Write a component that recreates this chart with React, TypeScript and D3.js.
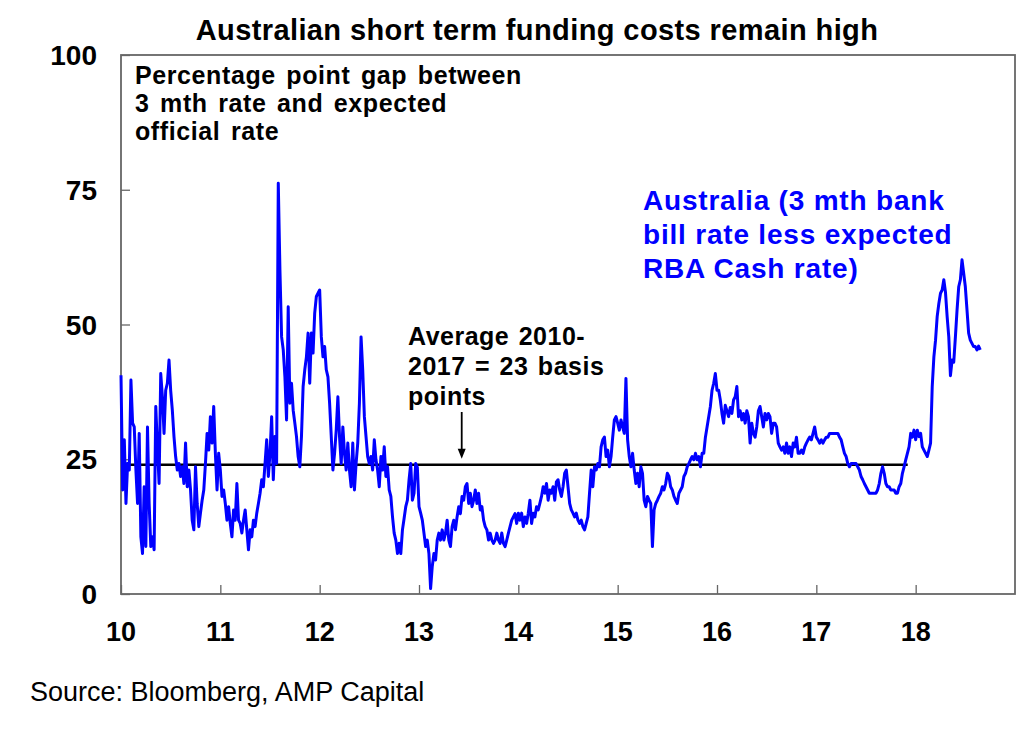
import { useEffect, useRef } from "react";
import * as d3 from "d3";

const title = "Australian short term funding costs remain high";
const subtitleLines = ["Percentage point gap between", "3 mth rate and expected", "official rate"];
const seriesLabelLines = ["Australia (3 mth bank", "bill rate less expected", "RBA Cash rate)"];
const averageLabelLines = ["Average 2010-", "2017 = 23 basis", "points"];
const source = "Source: Bloomberg, AMP Capital";

const xTicks = [10, 11, 12, 13, 14, 15, 16, 17, 18];
const yTicks = [0, 25, 50, 75, 100];

// average gap over 2010-2017 (line drawn up to end of 2017)
const averageGap = 24;
const averageFrom = 10;
const averageTo = 17.92;
const arrowAt = 13.43;

// basis points, sampled ~60 times a year
const samplesPerYear = 60;
const y2010 = [40.6, 19.3, 28.6, 16.8, 24.2, 23.0, 39.7, 31.7, 31.0, 23.0, 16.8, 29.8, 10.6, 7.5, 19.9, 8.8, 31.0, 16.8, 8.8, 10.6,
  8.2, 34.8, 27.3, 20.5, 40.9, 36.6, 29.8, 37.8, 39.1, 43.4, 37.8, 34.1, 29.2, 25.5, 23.0, 24.2, 21.8, 23.6, 20.5, 28.0,
  19.9, 23.0, 19.3, 13.7, 11.9, 23.6, 16.8, 12.5, 15.0, 17.4, 19.3, 24.2, 29.8, 26.7, 32.9, 28.0, 34.8, 26.1, 19.3, 26.1];
const y2011 = [23.0, 18.1, 19.3, 16.8, 13.7, 16.2, 13.1, 10.6, 15.6, 13.7, 20.5, 13.7, 13.1, 11.3, 13.7, 15.6, 11.9, 8.2, 11.9, 10.6,
  13.7, 12.5, 15.0, 16.8, 18.7, 21.2, 19.9, 24.2, 28.6, 21.8, 26.1, 32.9, 21.2, 29.2, 24.2, 76.2, 60.1, 47.7, 45.3, 40.3,
  32.3, 53.3, 35.4, 39.1, 34.1, 31.7, 29.2, 25.5, 23.6, 29.2, 38.5, 41.6, 44.0, 48.4, 39.1, 48.4, 44.7, 52.1, 55.2];
const y2012 = [56.4, 47.7, 44.0, 45.9, 41.6, 40.3, 35.4, 29.2, 23.0, 26.1, 30.4, 36.6, 29.2, 24.2, 31.0, 26.1, 23.0, 28.0, 23.0, 19.9,
  28.0, 19.3, 24.2, 28.0, 35.4, 47.7, 41.6, 32.9, 29.2, 25.5, 24.2, 25.5, 23.0, 28.6, 24.9, 23.0, 19.9, 25.5, 23.0, 27.3,
  21.8, 23.6, 19.3, 18.1, 14.3, 11.3, 10.0, 7.5, 9.4, 7.5, 11.9, 14.0, 16.2, 17.4, 21.2, 24.2, 17.4, 18.7, 24.2, 23.5];
const y2013 = [16.2, 15.0, 13.7, 11.3, 8.8, 10.0, 7.5, 1.0, 5.1, 7.5, 6.3, 10.0, 11.3, 10.0, 11.9, 10.0, 11.3, 13.7, 10.0, 8.8,
  12.5, 13.7, 11.9, 14.3, 16.2, 14.9, 18.1, 17.4, 19.9, 20.5, 16.8, 18.7, 16.2, 17.4, 19.3, 16.8, 18.7, 15.6, 16.2, 13.7,
  12.5, 11.9, 10.0, 11.3, 10.0, 9.4, 10.0, 11.3, 10.0, 9.4, 11.3, 9.4, 8.8, 10.0, 11.3, 12.5, 13.7, 14.3, 14.9, 13.1];
const y2014 = [15.0, 13.7, 15.0, 12.5, 14.3, 13.1, 15.0, 17.4, 13.1, 15.0, 14.3, 16.2, 15.6, 16.8, 18.1, 19.9, 18.7, 20.5, 17.4, 19.3,
  18.7, 19.9, 17.4, 20.8, 21.2, 19.3, 18.1, 19.9, 22.4, 23.0, 19.9, 16.8, 15.6, 15.0, 14.3, 15.0, 13.7, 13.1, 13.7, 12.5,
  11.9, 13.1, 14.3, 18.7, 23.0, 19.9, 23.6, 23.0, 24.2, 23.6, 27.3, 28.6, 29.1, 25.5, 26.7, 23.6, 25.5, 29.1, 32.3, 32.9];
const y2015 = [31.7, 30.4, 32.3, 31.0, 29.8, 40.0, 28.6, 25.5, 23.6, 26.1, 23.0, 20.5, 22.4, 19.9, 23.6, 22.4, 17.4, 16.2, 18.1, 17.4,
  16.8, 8.8, 15.6, 16.8, 17.4, 18.1, 18.7, 19.9, 19.3, 20.5, 22.4, 21.8, 19.9, 19.3, 18.1, 17.4, 16.8, 18.7, 19.3, 19.9,
  21.8, 22.4, 23.6, 24.2, 24.9, 25.5, 24.9, 26.1, 24.9, 25.5, 23.6, 26.1, 26.1, 29.1, 31.0, 32.9, 34.8, 37.8, 39.1, 40.9];
const y2016 = [37.8, 37.8, 36.0, 33.5, 31.7, 35.0, 34.0, 32.9, 34.6, 33.5, 36.0, 36.6, 38.5, 32.9, 34.0, 32.3, 33.5, 31.7, 34.0, 32.9,
  28.0, 31.7, 29.8, 29.1, 31.0, 34.0, 34.8, 32.9, 31.0, 33.5, 32.3, 33.5, 32.9, 29.8, 31.7, 31.7, 31.0, 28.0, 27.3, 26.7,
  27.3, 26.1, 28.0, 26.1, 27.3, 25.5, 28.0, 27.3, 29.1, 26.1, 26.1, 26.7, 26.1, 27.3, 28.0, 28.6, 29.1, 28.6, 29.8, 31.0];
const y2017 = [29.1, 28.6, 28.0, 28.6, 28.0, 28.6, 29.1, 29.1, 29.8, 29.8, 29.8, 29.8, 29.8, 29.8, 29.1, 28.6, 27.3, 26.1, 25.5, 24.2,
  23.6, 24.2, 24.2, 24.2, 24.2, 23.6, 23.0, 21.8, 21.2, 20.5, 19.9, 19.3, 18.7, 18.7, 18.7, 18.7, 18.7, 19.3, 20.5, 22.4,
  23.6, 22.4, 20.5, 19.9, 19.9, 19.3, 19.3, 19.3, 18.7, 18.7, 19.9, 20.5, 22.4, 23.6, 24.9, 26.1, 27.3, 29.8, 29.1, 30.4];
const y2018 = [28.6, 30.4, 29.2, 29.8, 27.3, 26.7, 26.1, 25.5, 26.7, 28.0, 38.5, 44.0, 47.1, 51.5, 53.9, 55.8, 56.4, 58.3, 56.0, 51.5,
  47.7, 40.5, 43.4, 43.0, 47.7, 52.7, 57.0, 58.3, 62.0, 59.5, 57.0, 52.7, 48.4, 47.1, 46.5, 45.9, 45.9, 45.3, 46.0, 45.3];

const years = [10, 11, 12, 13, 14, 15, 16, 17, 18];
const yearly = [y2010, y2011, y2012, y2013, y2014, y2015, y2016, y2017, y2018];

const width = 1024;
const height = 730;
const marginLeft = 121;
const marginRight = 9;
const marginTop = 55;
const marginBottom = 136;

export default function App() {
  const ref = useRef(null);

  useEffect(() => {
    document.body.style.margin = "0";

    const data = yearly.flatMap((vals, k) => vals.map((v, i) => ({ t: years[k] + i / samplesPerYear, v })));

    const x = d3.scaleLinear([10, 19], [marginLeft, width - marginRight]);
    const y = d3.scaleLinear([0, 100], [height - marginBottom, marginTop]);

    const svg = d3.select(ref.current);
    svg.selectAll("*").remove();
    svg.attr("font-family", "'Liberation Sans', Arial, Helvetica, sans-serif");

    svg.append("rect").attr("width", width).attr("height", height).attr("fill", "white");

    // title
    svg.append("text")
        .attr("x", 537)
        .attr("y", 40)
        .attr("text-anchor", "middle")
        .attr("font-size", 29)
        .attr("font-weight", "bold")
        .attr("letter-spacing", 0.4)
        .text(title);

    // y-axis ticks + labels
    svg.append("g")
        .attr("transform", `translate(${marginLeft},0)`)
        .call(d3.axisRight(y).tickValues(yTicks).tickSize(9).tickFormat(() => ""))
        .call(g => g.select(".domain").remove())
        .call(g => g.selectAll(".tick line").attr("stroke", "#666").attr("stroke-width", 1.3));

    svg.append("g")
        .selectAll("text")
        .data(yTicks)
        .join("text")
        .attr("x", 97)
        .attr("y", d => y(d) + 10)
        .attr("text-anchor", "end")
        .attr("font-size", 28)
        .attr("font-weight", "bold")
        .text(d => d);

    // x-axis ticks + labels
    svg.append("g")
        .attr("transform", `translate(0,${height - marginBottom})`)
        .call(d3.axisTop(x).tickValues(xTicks).tickSize(9).tickFormat(() => ""))
        .call(g => g.select(".domain").remove())
        .call(g => g.selectAll(".tick line").attr("stroke", "#666").attr("stroke-width", 1.3));

    svg.append("g")
        .selectAll("text")
        .data(xTicks)
        .join("text")
        .attr("x", d => x(d))
        .attr("y", 641)
        .attr("text-anchor", "middle")
        .attr("font-size", 27)
        .attr("font-weight", "bold")
        .text(d => d);

    // frame
    svg.append("rect")
        .attr("x", marginLeft)
        .attr("y", marginTop)
        .attr("width", width - marginLeft - marginRight)
        .attr("height", height - marginTop - marginBottom)
        .attr("fill", "none")
        .attr("stroke", "#666")
        .attr("stroke-width", 1.8);

    // average line
    svg.append("line")
        .attr("x1", x(averageFrom))
        .attr("x2", x(averageTo))
        .attr("y1", y(averageGap))
        .attr("y2", y(averageGap))
        .attr("stroke", "black")
        .attr("stroke-width", 2.5);

    // the series
    const line = d3.line()
        .x(d => x(d.t))
        .y(d => y(d.v));

    svg.append("path")
        .attr("fill", "none")
        .attr("stroke", "#0000ff")
        .attr("stroke-width", 3)
        .attr("stroke-linejoin", "round")
        .attr("d", line(data));

    // subtitle
    svg.append("text")
        .attr("font-size", 25)
        .attr("font-weight", "bold")
        .attr("letter-spacing", 0.6)
        .attr("word-spacing", 3)
        .selectAll("tspan")
        .data(subtitleLines)
        .join("tspan")
        .attr("x", 135)
        .attr("y", (d, i) => 83.5 + i * 28.3)
        .text(d => d);

    // series label
    svg.append("text")
        .attr("font-size", 28)
        .attr("font-weight", "bold")
        .attr("letter-spacing", 0.8)
        .attr("fill", "#0000ff")
        .selectAll("tspan")
        .data(seriesLabelLines)
        .join("tspan")
        .attr("x", 643)
        .attr("y", (d, i) => 210 + i * 34)
        .text(d => d);

    // average label + arrow
    svg.append("text")
        .attr("font-size", 25)
        .attr("font-weight", "bold")
        .attr("letter-spacing", 0.5)
        .attr("word-spacing", 2)
        .selectAll("tspan")
        .data(averageLabelLines)
        .join("tspan")
        .attr("x", 408)
        .attr("y", (d, i) => 345 + i * 30)
        .text(d => d);

    const ax = x(arrowAt);
    const tip = y(averageGap) - 6;
    svg.append("line")
        .attr("x1", ax).attr("x2", ax)
        .attr("y1", 412).attr("y2", tip - 4)
        .attr("stroke", "black")
        .attr("stroke-width", 1.8);
    svg.append("path")
        .attr("d", `M${ax - 4},${tip - 10}L${ax},${tip}L${ax + 4},${tip - 10}Z`)
        .attr("fill", "black");

    // source
    svg.append("text")
        .attr("x", 30)
        .attr("y", 701)
        .attr("font-size", 27)
        .text(source);
  }, []);

  return (
    <div>
      <svg ref={ref} width={width} height={height} style={{ display: "block" }} />
    </div>
  );
}
